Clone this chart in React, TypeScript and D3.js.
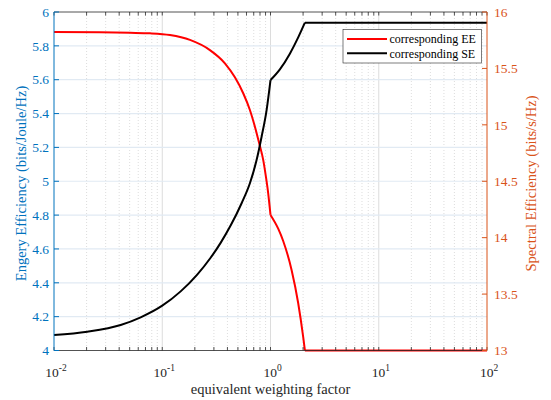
import * as d3 from "d3";
import React, { useEffect, useRef } from "react";

// x axis (log) ticks
const xTickValues = [0.01, 0.1, 1, 10, 100];
const xTickExponents = ["-2", "-1", "0", "1", "2"];

// left axis: energy efficiency, right axis: spectral efficiency
const eeTicks = [4, 4.2, 4.4, 4.6, 4.8, 5, 5.2, 5.4, 5.6, 5.8, 6];
const seTicks = [13, 13.5, 14, 14.5, 15, 15.5, 16];

// corresponding EE (red)
const eeX = [0.01, 0.0266, 0.0503, 0.077, 0.1178, 0.1803, 0.2757, 0.3793, 0.469, 0.5597, 0.6452, 0.7178, 0.7865, 0.8562, 0.9068, 0.9523, 1.0, 1.178, 1.31, 1.566, 1.803, 2.004, 2.078, 100];
const eeY = [5.882, 5.88, 5.877, 5.874, 5.864, 5.835, 5.775, 5.697, 5.614, 5.52, 5.421, 5.322, 5.224, 5.126, 5.027, 4.929, 4.801, 4.72, 4.647, 4.476, 4.279, 4.08, 4.0, 4.0];

// corresponding SE (black)
const seX = [0.01, 0.0203, 0.0413, 0.0632, 0.1, 0.1479, 0.2104, 0.2798, 0.3461, 0.4281, 0.5409, 0.6452, 0.7438, 0.8276, 0.9204, 1.0, 1.221, 1.51, 1.803, 2.078, 100];
const seY = [13.137, 13.167, 13.226, 13.294, 13.397, 13.524, 13.673, 13.822, 13.954, 14.107, 14.305, 14.482, 14.688, 14.895, 15.131, 15.397, 15.492, 15.631, 15.775, 15.905, 15.905];

// points where the curves have a corner
const kinks = [1, 2.078];

const legendLabels = ["corresponding EE", "corresponding SE"];

const W = 551;
const H = 400;
const margin = { left: 54, right: 64, top: 12, bottom: 49.5 };
const FONT = "'Liberation Serif', 'Times New Roman', serif";
const BLUE = "#0072BD";
const ORANGE = "#D95319";
const DARK = "#262626";

// break a series at the kink x values so that each piece is smooth
function pieces(xs: number[], ys: number[]) {
  const out: [number, number][][] = [];
  let cur: [number, number][] = [];
  xs.forEach((x, i) => {
    cur.push([x, ys[i]]);
    if (kinks.includes(x) && cur.length > 1) {
      out.push(cur);
      cur = [[x, ys[i]]];
    }
  });
  if (cur.length > 1) out.push(cur);
  return out;
}

const App = () => {
  const svgRef = useRef<SVGSVGElement>(null);

  useEffect(() => {
    const svg = d3.select(svgRef.current);
    svg.selectAll("*").remove();

    const x0 = margin.left;
    const x1 = W - margin.right;
    const y0 = margin.top;
    const y1 = H - margin.bottom;

    const x = d3.scaleLog().domain([0.01, 100]).range([x0, x1]);
    const yL = d3.scaleLinear().domain([4, 6]).range([y1, y0]);
    const yR = d3.scaleLinear().domain([13, 16]).range([y1, y0]);

    // minor x positions 2..9 in every decade
    const minor: number[] = [];
    for (let e = -2; e < 2; e++) {
      for (let m = 2; m <= 9; m++) minor.push(m * Math.pow(10, e));
    }

    svg.append("rect").attr("x", x0).attr("y", y0).attr("width", x1 - x0).attr("height", y1 - y0).attr("fill", "#fff");

    // grid
    const grid = svg.append("g");
    grid
      .selectAll(".minor")
      .data(minor)
      .enter()
      .append("line")
      .attr("x1", (d) => x(d))
      .attr("x2", (d) => x(d))
      .attr("y1", y0)
      .attr("y2", y1)
      .attr("stroke", "#d4d4d4")
      .attr("stroke-width", 0.8)
      .attr("stroke-dasharray", "1,2");
    grid
      .selectAll(".major")
      .data(xTickValues.slice(1, -1))
      .enter()
      .append("line")
      .attr("x1", (d) => x(d))
      .attr("x2", (d) => x(d))
      .attr("y1", y0)
      .attr("y2", y1)
      .attr("stroke", "#dcdcdc")
      .attr("stroke-width", 1);
    grid
      .selectAll(".ygrid")
      .data(eeTicks.slice(1, -1))
      .enter()
      .append("line")
      .attr("x1", x0)
      .attr("x2", x1)
      .attr("y1", (d) => yL(d))
      .attr("y2", (d) => yL(d))
      .attr("stroke", "#e1eaf3")
      .attr("stroke-width", 1.2);

    // curves
    const lineL = d3
      .line<[number, number]>()
      .x((d) => x(d[0]))
      .y((d) => yL(d[1]))
      .curve(d3.curveMonotoneX);
    const lineR = d3
      .line<[number, number]>()
      .x((d) => x(d[0]))
      .y((d) => yR(d[1]))
      .curve(d3.curveMonotoneX);

    pieces(eeX, eeY).forEach((p) => {
      svg.append("path").attr("d", lineL(p)).attr("fill", "none").attr("stroke", "#ff0000").attr("stroke-width", 2);
    });
    pieces(seX, seY).forEach((p) => {
      svg.append("path").attr("d", lineR(p)).attr("fill", "none").attr("stroke", "#000").attr("stroke-width", 2);
    });

    // x axis: bottom and top borders with inward ticks
    const allX = xTickValues.concat(minor);
    [y1, y0].forEach((yy, k) => {
      svg.append("line").attr("x1", x0).attr("x2", x1).attr("y1", yy).attr("y2", yy).attr("stroke", DARK).attr("stroke-width", 0.8);
      svg
        .append("g")
        .selectAll("line")
        .data(allX)
        .enter()
        .append("line")
        .attr("x1", (d) => x(d))
        .attr("x2", (d) => x(d))
        .attr("y1", yy)
        .attr("y2", k === 0 ? yy - 3.5 : yy + 3.5)
        .attr("stroke", DARK)
        .attr("stroke-width", 0.8);
    });

    const xl = svg
      .append("g")
      .selectAll("text")
      .data(xTickValues)
      .enter()
      .append("text")
      .attr("x", (d) => x(d) + 2)
      .attr("y", y1 + 26)
      .attr("text-anchor", "middle")
      .attr("font-family", FONT)
      .attr("font-size", 13.5)
      .attr("fill", DARK);
    xl.append("tspan").text("10");
    xl.append("tspan")
      .attr("dy", -6)
      .attr("font-size", 9.5)
      .text((d, i) => xTickExponents[i]);

    svg
      .append("text")
      .attr("x", (x0 + x1) / 2)
      .attr("y", H - 6)
      .attr("text-anchor", "middle")
      .attr("font-family", FONT)
      .attr("font-size", 14.5)
      .attr("fill", DARK)
      .text("equivalent weighting factor");

    // left axis
    svg.append("line").attr("x1", x0).attr("x2", x0).attr("y1", y0).attr("y2", y1).attr("stroke", BLUE).attr("stroke-width", 1);
    const left = svg.append("g").selectAll("g").data(eeTicks).enter().append("g");
    left
      .append("line")
      .attr("x1", x0)
      .attr("x2", x0 + 5)
      .attr("y1", (d) => yL(d))
      .attr("y2", (d) => yL(d))
      .attr("stroke", BLUE);
    left
      .append("text")
      .attr("x", x0 - 5)
      .attr("y", (d) => yL(d))
      .attr("dy", "0.35em")
      .attr("text-anchor", "end")
      .attr("font-family", FONT)
      .attr("font-size", 13.5)
      .attr("fill", BLUE)
      .text((d) => String(d));
    svg
      .append("text")
      .attr("transform", `translate(21,183.5) rotate(-90)`)
      .attr("text-anchor", "middle")
      .attr("dy", "0.35em")
      .attr("font-family", FONT)
      .attr("font-size", 14.5)
      .attr("fill", BLUE)
      .text("Engery Efficiency (bits/Joule/Hz)");

    // right axis
    svg.append("line").attr("x1", x1).attr("x2", x1).attr("y1", y0).attr("y2", y1).attr("stroke", ORANGE).attr("stroke-width", 1);
    const right = svg.append("g").selectAll("g").data(seTicks).enter().append("g");
    right
      .append("line")
      .attr("x1", x1)
      .attr("x2", x1 - 5)
      .attr("y1", (d) => yR(d))
      .attr("y2", (d) => yR(d))
      .attr("stroke", ORANGE);
    right
      .append("text")
      .attr("x", x1 + 7)
      .attr("y", (d) => yR(d))
      .attr("dy", "0.35em")
      .attr("text-anchor", "start")
      .attr("font-family", FONT)
      .attr("font-size", 13.5)
      .attr("fill", ORANGE)
      .text((d) => String(d));
    svg
      .append("text")
      .attr("transform", `translate(531,183.5) rotate(-90)`)
      .attr("text-anchor", "middle")
      .attr("dy", "0.35em")
      .attr("font-family", FONT)
      .attr("font-size", 14.5)
      .attr("fill", ORANGE)
      .text("Spectral Efficiency (bits/s/Hz)");

    // legend
    const lg = svg.append("g").attr("transform", "translate(343,29.5)");
    lg.append("rect").attr("width", 138.5).attr("height", 33.5).attr("fill", "#fff").attr("stroke", DARK).attr("stroke-width", 0.6);
    const colors = ["#ff0000", "#000"];
    legendLabels.forEach((label, i) => {
      const yy = 9.5 + i * 14.3;
      lg.append("line").attr("x1", 4).attr("x2", 44).attr("y1", yy).attr("y2", yy).attr("stroke", colors[i]).attr("stroke-width", 2);
      lg.append("text")
        .attr("x", 46.5)
        .attr("y", yy)
        .attr("dy", "0.35em")
        .attr("font-family", FONT)
        .attr("font-size", 12)
        .attr("fill", "#000")
        .text(label);
    });
  }, []);

  return (
    <svg
      ref={svgRef}
      width={W}
      height={H}
      style={{ position: "absolute", left: 0, top: 0, background: "#fff" }}
    ></svg>
  );
};

export default App;
